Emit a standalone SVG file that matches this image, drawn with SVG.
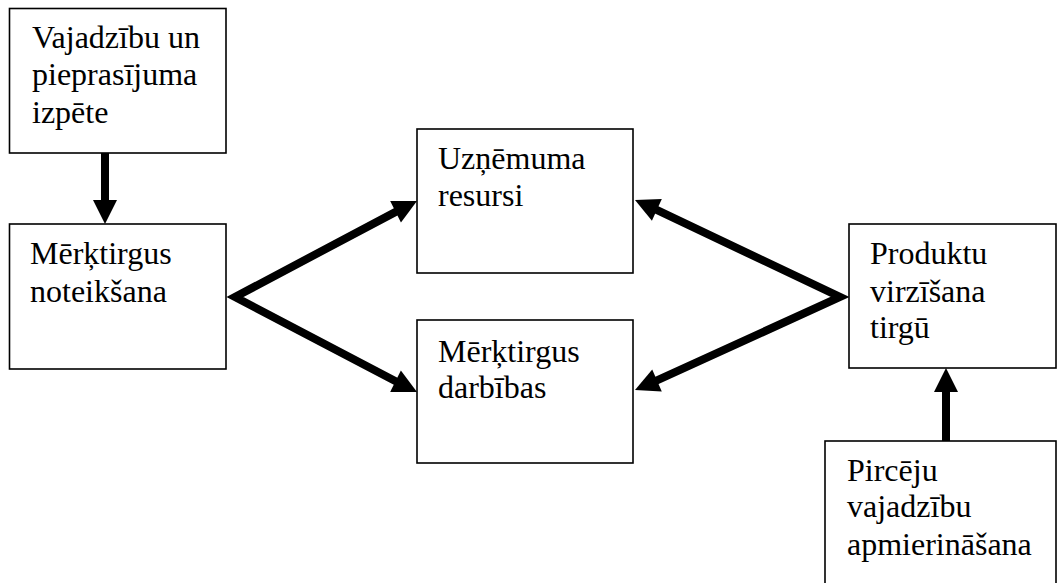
<svg xmlns="http://www.w3.org/2000/svg" width="1057" height="583" viewBox="0 0 1057 583">
  <style>
    .box { fill: #fff; stroke: #000; stroke-width: 1.6; }
    .conn { fill: none; stroke: #000; stroke-width: 8; stroke-linejoin: miter; stroke-miterlimit: 10; }
    .tip { fill: #000; stroke: none; }
    .lbl { font-family: 'Liberation Serif', serif; font-size: 32px; fill: #000; }
  </style>
  <rect width="1057" height="583" fill="#fff"/>

  <!-- thick connectors with filled triangular heads -->
  <g id="connectors">
    <line class="conn" x1="105" y1="153" x2="105" y2="206"/>
    <polygon class="tip" points="105,224 93,200 117,200"/>

    <polyline class="conn" points="400.9,209.1 235,297 400.9,384"/>
    <polygon class="tip" points="417,201 400.96,222.5 390.18,201.06"/>
    <polygon class="tip" points="417,392 390.17,392.06 400.85,370.56"/>

    <polyline class="conn" points="651.4,207.4 840,297 651.5,382.8"/>
    <polygon class="tip" points="635,200 661.81,198.98 651.91,220.84"/>
    <polygon class="tip" points="635,390 661.79,391.43 652.23,369.43"/>

    <line class="conn" x1="946" y1="441" x2="946" y2="386"/>
    <polygon class="tip" points="946,368 934,392 958,392"/>
  </g>

  <g id="node-izpete">
    <rect class="box" x="9.5" y="8.5" width="216.5" height="144.5"/>
    <text class="lbl" x="32" y="47.5">Vajadzību un</text>
    <text class="lbl" x="32" y="85">pieprasījuma</text>
    <text class="lbl" x="32" y="122.5">izpēte</text>
  </g>

  <g id="node-noteiksana">
    <rect class="box" x="9.5" y="224" width="216.5" height="145"/>
    <text class="lbl" x="30" y="264">Mērķtirgus</text>
    <text class="lbl" x="30" y="302">noteikšana</text>
  </g>

  <g id="node-resursi">
    <rect class="box" x="417" y="129" width="216" height="144"/>
    <text class="lbl" x="438" y="169">Uzņēmuma</text>
    <text class="lbl" x="438" y="206">resursi</text>
  </g>

  <g id="node-darbibas">
    <rect class="box" x="417" y="320" width="216" height="143"/>
    <text class="lbl" x="438" y="362">Mērķtirgus</text>
    <text class="lbl" x="438" y="398">darbības</text>
  </g>

  <g id="node-virzisana">
    <rect class="box" x="849" y="224" width="207" height="144"/>
    <text class="lbl" x="870" y="264">Produktu</text>
    <text class="lbl" x="870" y="302">virzīšana</text>
    <text class="lbl" x="870" y="338">tirgū</text>
  </g>

  <g id="node-apmierinasana">
    <rect class="box" x="825" y="441" width="231" height="200"/>
    <text class="lbl" x="847" y="481">Pircēju</text>
    <text class="lbl" x="847" y="517">vajadzību</text>
    <text class="lbl" x="847" y="555">apmierināšana</text>
  </g>
</svg>
